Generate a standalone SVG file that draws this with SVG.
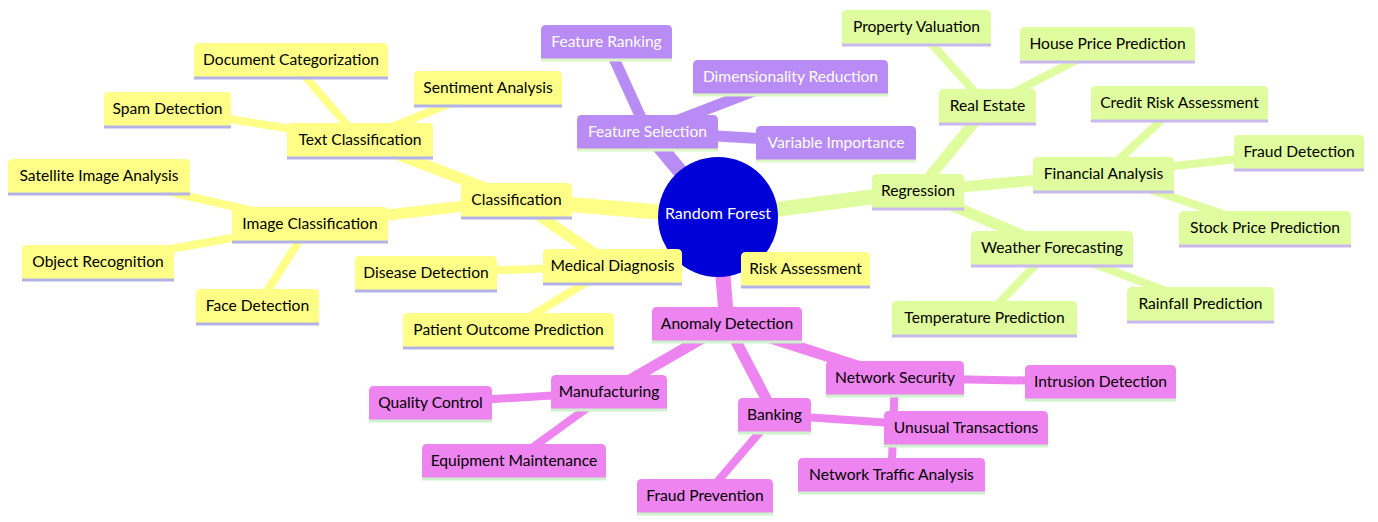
<svg xmlns="http://www.w3.org/2000/svg" width="1378" height="522" viewBox="0 0 1378 522">
<style>
text{font-family:Lato,"Liberation Sans",Arial,sans-serif;font-size:15.6px;text-anchor:middle}
.edges line{fill:none;stroke-linecap:butt}
.e0{stroke:#ffff88}.e1{stroke:#dffc9e}.e2{stroke:#b98bf4}.e3{stroke:#ee84ef}
.w1{stroke-width:15}.w2{stroke-width:11}.w3{stroke-width:8}
.s0 path{fill:#ffff88}.s0 line{stroke:#b3b3e8}.s0 text{fill:#000}
.s1 path{fill:#dffc9e}.s1 line{stroke:#c9b9ee}.s1 text{fill:#000}
.s2 path{fill:#b98bf4}.s2 line{stroke:#dcf6c6}.s2 text{fill:#fff}
.s3 path{fill:#ee84ef}.s3 line{stroke:#cdf2cd}.s3 text{fill:#000}
.node line{stroke-width:3}
</style>
<g id="connectors" class="edges">
<line class="e0 w1" x1="718" y1="217" x2="516.5" y2="200"/>
<line class="e0 w2" x1="516.5" y1="200" x2="360" y2="140"/>
<line class="e0 w2" x1="516.5" y1="200" x2="310" y2="224"/>
<line class="e0 w2" x1="516.5" y1="200" x2="612.5" y2="266"/>
<line class="e0 w3" x1="360" y1="140" x2="291" y2="60"/>
<line class="e0 w3" x1="360" y1="140" x2="167.5" y2="109"/>
<line class="e0 w3" x1="360" y1="140" x2="488" y2="88"/>
<line class="e0 w3" x1="310" y1="224" x2="99" y2="176"/>
<line class="e0 w3" x1="310" y1="224" x2="98" y2="262"/>
<line class="e0 w3" x1="310" y1="224" x2="257.5" y2="306"/>
<line class="e0 w3" x1="612.5" y1="266" x2="426" y2="273"/>
<line class="e0 w3" x1="612.5" y1="266" x2="508.5" y2="330"/>
<line class="e1 w1" x1="718" y1="217" x2="918" y2="191"/>
<line class="e1 w2" x1="918" y1="191" x2="987.5" y2="106"/>
<line class="e1 w2" x1="918" y1="191" x2="1103.5" y2="174"/>
<line class="e1 w2" x1="918" y1="191" x2="1052" y2="248"/>
<line class="e1 w3" x1="987.5" y1="106" x2="916.5" y2="27"/>
<line class="e1 w3" x1="987.5" y1="106" x2="1107.5" y2="44"/>
<line class="e1 w3" x1="1103.5" y1="174" x2="1179.5" y2="103"/>
<line class="e1 w3" x1="1103.5" y1="174" x2="1299" y2="152"/>
<line class="e1 w3" x1="1103.5" y1="174" x2="1265" y2="228"/>
<line class="e1 w3" x1="1052" y1="248" x2="1200.5" y2="304"/>
<line class="e1 w3" x1="1052" y1="248" x2="984.5" y2="318"/>
<line class="e2 w1" x1="718" y1="217" x2="647.5" y2="132"/>
<line class="e2 w2" x1="647.5" y1="132" x2="606.5" y2="42"/>
<line class="e2 w2" x1="647.5" y1="132" x2="790.5" y2="77"/>
<line class="e2 w2" x1="647.5" y1="132" x2="836" y2="143"/>
<line class="e3 w1" x1="718" y1="217" x2="727" y2="324"/>
<line class="e3 w2" x1="727" y1="324" x2="609" y2="392"/>
<line class="e3 w2" x1="727" y1="324" x2="774.5" y2="415"/>
<line class="e3 w2" x1="727" y1="324" x2="895" y2="378"/>
<line class="e3 w3" x1="609" y1="392" x2="430.5" y2="403"/>
<line class="e3 w3" x1="609" y1="392" x2="514" y2="461"/>
<line class="e3 w3" x1="774.5" y1="415" x2="705" y2="496"/>
<line class="e3 w3" x1="774.5" y1="415" x2="966" y2="428"/>
<line class="e3 w3" x1="895" y1="378" x2="1100.5" y2="382"/>
<line class="e3 w3" x1="895" y1="378" x2="891.5" y2="475"/>
</g>
<g id="root">
<circle cx="718" cy="217" r="60" fill="#0000d8"/>
<text x="718" y="219" fill="#fff" style="font-size:16px">Random Forest</text>
</g>
<g id="classification" class="node s0" transform="translate(461,183)"><path d="M0,34V5Q0,0 5,0H106Q111,0 111,5V34Z"/><line x1="0" y1="35" x2="111" y2="35"/><text x="55.5" y="22">Classification</text></g>
<g id="text-classification" class="node s0" transform="translate(287,123)"><path d="M0,34V5Q0,0 5,0H141Q146,0 146,5V34Z"/><line x1="0" y1="35" x2="146" y2="35"/><text x="73" y="22">Text Classification</text></g>
<g id="document-categorization" class="node s0" transform="translate(194,43)"><path d="M0,34V5Q0,0 5,0H189Q194,0 194,5V34Z"/><line x1="0" y1="35" x2="194" y2="35"/><text x="97" y="22">Document Categorization</text></g>
<g id="spam-detection" class="node s0" transform="translate(104,92)"><path d="M0,34V5Q0,0 5,0H122Q127,0 127,5V34Z"/><line x1="0" y1="35" x2="127" y2="35"/><text x="63.5" y="22">Spam Detection</text></g>
<g id="sentiment-analysis" class="node s0" transform="translate(414,71)"><path d="M0,34V5Q0,0 5,0H143Q148,0 148,5V34Z"/><line x1="0" y1="35" x2="148" y2="35"/><text x="74" y="22">Sentiment Analysis</text></g>
<g id="image-classification" class="node s0" transform="translate(232,207)"><path d="M0,34V5Q0,0 5,0H151Q156,0 156,5V34Z"/><line x1="0" y1="35" x2="156" y2="35"/><text x="78" y="22">Image Classification</text></g>
<g id="satellite-image-analysis" class="node s0" transform="translate(8,159)"><path d="M0,34V5Q0,0 5,0H177Q182,0 182,5V34Z"/><line x1="0" y1="35" x2="182" y2="35"/><text x="91" y="22">Satellite Image Analysis</text></g>
<g id="object-recognition" class="node s0" transform="translate(22,245)"><path d="M0,34V5Q0,0 5,0H147Q152,0 152,5V34Z"/><line x1="0" y1="35" x2="152" y2="35"/><text x="76" y="22">Object Recognition</text></g>
<g id="face-detection" class="node s0" transform="translate(196,289)"><path d="M0,34V5Q0,0 5,0H118Q123,0 123,5V34Z"/><line x1="0" y1="35" x2="123" y2="35"/><text x="61.5" y="22">Face Detection</text></g>
<g id="medical-diagnosis" class="node s0" transform="translate(543,249)"><path d="M0,34V5Q0,0 5,0H134Q139,0 139,5V34Z"/><line x1="0" y1="35" x2="139" y2="35"/><text x="69.5" y="22">Medical Diagnosis</text></g>
<g id="disease-detection" class="node s0" transform="translate(355,256)"><path d="M0,34V5Q0,0 5,0H137Q142,0 142,5V34Z"/><line x1="0" y1="35" x2="142" y2="35"/><text x="71" y="22">Disease Detection</text></g>
<g id="patient-outcome-prediction" class="node s0" transform="translate(403,313)"><path d="M0,34V5Q0,0 5,0H206Q211,0 211,5V34Z"/><line x1="0" y1="35" x2="211" y2="35"/><text x="105.5" y="22">Patient Outcome Prediction</text></g>
<g id="risk-assessment" class="node s0" transform="translate(741,252)"><path d="M0,34V5Q0,0 5,0H124Q129,0 129,5V34Z"/><line x1="0" y1="35" x2="129" y2="35"/><text x="64.5" y="22">Risk Assessment</text></g>
<g id="feature-selection" class="node s2" transform="translate(577,115)"><path d="M0,34V5Q0,0 5,0H136Q141,0 141,5V34Z"/><line x1="0" y1="35" x2="141" y2="35"/><text x="70.5" y="22">Feature Selection</text></g>
<g id="feature-ranking" class="node s2" transform="translate(541,25)"><path d="M0,34V5Q0,0 5,0H126Q131,0 131,5V34Z"/><line x1="0" y1="35" x2="131" y2="35"/><text x="65.5" y="22">Feature Ranking</text></g>
<g id="dimensionality-reduction" class="node s2" transform="translate(693,60)"><path d="M0,34V5Q0,0 5,0H190Q195,0 195,5V34Z"/><line x1="0" y1="35" x2="195" y2="35"/><text x="97.5" y="22">Dimensionality Reduction</text></g>
<g id="variable-importance" class="node s2" transform="translate(756,126)"><path d="M0,34V5Q0,0 5,0H155Q160,0 160,5V34Z"/><line x1="0" y1="35" x2="160" y2="35"/><text x="80" y="22">Variable Importance</text></g>
<g id="regression" class="node s1" transform="translate(872,174)"><path d="M0,34V5Q0,0 5,0H87Q92,0 92,5V34Z"/><line x1="0" y1="35" x2="92" y2="35"/><text x="46" y="22">Regression</text></g>
<g id="real-estate" class="node s1" transform="translate(939,89)"><path d="M0,34V5Q0,0 5,0H92Q97,0 97,5V34Z"/><line x1="0" y1="35" x2="97" y2="35"/><text x="48.5" y="22">Real Estate</text></g>
<g id="property-valuation" class="node s1" transform="translate(842,10)"><path d="M0,34V5Q0,0 5,0H144Q149,0 149,5V34Z"/><line x1="0" y1="35" x2="149" y2="35"/><text x="74.5" y="22">Property Valuation</text></g>
<g id="house-price-prediction" class="node s1" transform="translate(1020,27)"><path d="M0,34V5Q0,0 5,0H170Q175,0 175,5V34Z"/><line x1="0" y1="35" x2="175" y2="35"/><text x="87.5" y="22">House Price Prediction</text></g>
<g id="financial-analysis" class="node s1" transform="translate(1033,157)"><path d="M0,34V5Q0,0 5,0H136Q141,0 141,5V34Z"/><line x1="0" y1="35" x2="141" y2="35"/><text x="70.5" y="22">Financial Analysis</text></g>
<g id="credit-risk-assessment" class="node s1" transform="translate(1091,86)"><path d="M0,34V5Q0,0 5,0H172Q177,0 177,5V34Z"/><line x1="0" y1="35" x2="177" y2="35"/><text x="88.5" y="22">Credit Risk Assessment</text></g>
<g id="fraud-detection" class="node s1" transform="translate(1234,135)"><path d="M0,34V5Q0,0 5,0H125Q130,0 130,5V34Z"/><line x1="0" y1="35" x2="130" y2="35"/><text x="65" y="22">Fraud Detection</text></g>
<g id="stock-price-prediction" class="node s1" transform="translate(1179,211)"><path d="M0,34V5Q0,0 5,0H167Q172,0 172,5V34Z"/><line x1="0" y1="35" x2="172" y2="35"/><text x="86" y="22">Stock Price Prediction</text></g>
<g id="weather-forecasting" class="node s1" transform="translate(971,231)"><path d="M0,34V5Q0,0 5,0H157Q162,0 162,5V34Z"/><line x1="0" y1="35" x2="162" y2="35"/><text x="81" y="22">Weather Forecasting</text></g>
<g id="rainfall-prediction" class="node s1" transform="translate(1127,287)"><path d="M0,34V5Q0,0 5,0H142Q147,0 147,5V34Z"/><line x1="0" y1="35" x2="147" y2="35"/><text x="73.5" y="22">Rainfall Prediction</text></g>
<g id="temperature-prediction" class="node s1" transform="translate(892,301)"><path d="M0,34V5Q0,0 5,0H180Q185,0 185,5V34Z"/><line x1="0" y1="35" x2="185" y2="35"/><text x="92.5" y="22">Temperature Prediction</text></g>
<g id="anomaly-detection" class="node s3" transform="translate(652,307)"><path d="M0,34V5Q0,0 5,0H145Q150,0 150,5V34Z"/><line x1="0" y1="35" x2="150" y2="35"/><text x="75" y="22">Anomaly Detection</text></g>
<g id="manufacturing" class="node s3" transform="translate(551,375)"><path d="M0,34V5Q0,0 5,0H111Q116,0 116,5V34Z"/><line x1="0" y1="35" x2="116" y2="35"/><text x="58" y="22">Manufacturing</text></g>
<g id="quality-control" class="node s3" transform="translate(369,386)"><path d="M0,34V5Q0,0 5,0H118Q123,0 123,5V34Z"/><line x1="0" y1="35" x2="123" y2="35"/><text x="61.5" y="22">Quality Control</text></g>
<g id="equipment-maintenance" class="node s3" transform="translate(422,444)"><path d="M0,34V5Q0,0 5,0H179Q184,0 184,5V34Z"/><line x1="0" y1="35" x2="184" y2="35"/><text x="92" y="22">Equipment Maintenance</text></g>
<g id="banking" class="node s3" transform="translate(738,398)"><path d="M0,34V5Q0,0 5,0H68Q73,0 73,5V34Z"/><line x1="0" y1="35" x2="73" y2="35"/><text x="36.5" y="22">Banking</text></g>
<g id="fraud-prevention" class="node s3" transform="translate(637,479)"><path d="M0,34V5Q0,0 5,0H131Q136,0 136,5V34Z"/><line x1="0" y1="35" x2="136" y2="35"/><text x="68" y="22">Fraud Prevention</text></g>
<g id="network-security" class="node s3" transform="translate(826,361)"><path d="M0,34V5Q0,0 5,0H133Q138,0 138,5V34Z"/><line x1="0" y1="35" x2="138" y2="35"/><text x="69" y="22">Network Security</text></g>
<g id="intrusion-detection" class="node s3" transform="translate(1025,365)"><path d="M0,34V5Q0,0 5,0H146Q151,0 151,5V34Z"/><line x1="0" y1="35" x2="151" y2="35"/><text x="75.5" y="22">Intrusion Detection</text></g>
<g id="unusual-transactions" class="node s3" transform="translate(884,411)"><path d="M0,34V5Q0,0 5,0H159Q164,0 164,5V34Z"/><line x1="0" y1="35" x2="164" y2="35"/><text x="82" y="22">Unusual Transactions</text></g>
<g id="network-traffic-analysis" class="node s3" transform="translate(798,458)"><path d="M0,34V5Q0,0 5,0H182Q187,0 187,5V34Z"/><line x1="0" y1="35" x2="187" y2="35"/><text x="93.5" y="22">Network Traffic Analysis</text></g>
</svg>
